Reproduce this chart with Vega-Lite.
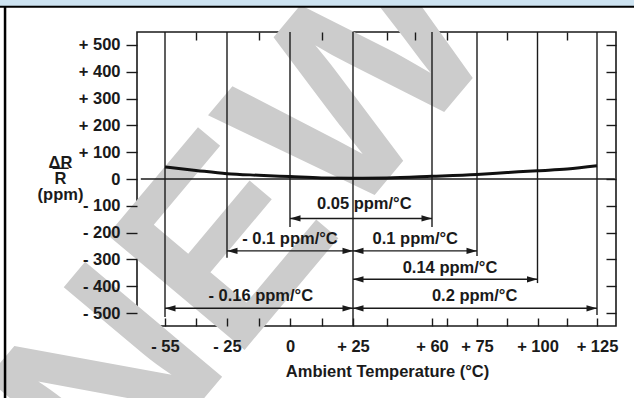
{
  "$schema": "https://vega.github.io/schema/vega-lite/v6.json",
  "autosize": {"type": "none"},
  "width": 479,
  "height": 294,
  "padding": {"left": 137, "top": 32, "right": 18, "bottom": 72},
  "background": "white",
  "config": {
    "view": {"stroke": "#1a1a1a", "strokeWidth": 1.6},
    "font": "Liberation Sans",
    "axis": {"zindex": 1, "labelFont": "Liberation Sans", "titleFont": "Liberation Sans", "labelFontWeight": "bold", "titleFontWeight": "bold", "labelColor": "#1a1a1a", "titleColor": "#1a1a1a", "tickColor": "#1a1a1a", "tickWidth": 1.4, "grid": false, "domain": false, "labelOverlap": false, "labelFlush": false}
  },
  "data": {"values": [{"note": "annotation"}]},
  "datasets": {
    "curve": [
      {"t": -55, "v": 45}, {"t": -40, "v": 32}, {"t": -25, "v": 20}, {"t": -12.5, "v": 14},
      {"t": 0, "v": 9}, {"t": 12.5, "v": 4}, {"t": 25, "v": 3}, {"t": 40, "v": 4},
      {"t": 60, "v": 10}, {"t": 75, "v": 17}, {"t": 87.5, "v": 24}, {"t": 100, "v": 31},
      {"t": 112.5, "v": 37}, {"t": 125, "v": 49}
    ],
    "verticals": [
      {"t": -55, "yEnd": -514}, {"t": -25, "yEnd": -294}, {"t": 0, "yEnd": -179},
      {"t": 25, "yEnd": -548}, {"t": 60, "yEnd": -179}, {"t": 75, "yEnd": -287},
      {"t": 100, "yEnd": -388}, {"t": 125, "yEnd": -507}
    ],
    "arrows": [
      {"label": "0.05 ppm/°C", "x1": 0, "x2": 60, "ya": -147, "tx": 30, "ty": -93},
      {"label": "- 0.1 ppm/°C", "x1": -25, "x2": 25, "ya": -268, "tx": 0, "ty": -225},
      {"label": "0.1 ppm/°C", "x1": 25, "x2": 75, "ya": -268, "tx": 52.6, "ty": -225},
      {"label": "0.14 ppm/°C", "x1": 25, "x2": 100, "ya": -374, "tx": 66, "ty": -333},
      {"label": "- 0.16 ppm/°C", "x1": -55, "x2": 25, "ya": -482, "tx": -11.6, "ty": -436},
      {"label": "0.2 ppm/°C", "x1": 25, "x2": 125, "ya": -482, "tx": 74.2, "ty": -436}
    ]
  },
  "resolve": {"axis": {"x": "independent", "y": "independent"}},
  "layer": [
    {
      "data": {"name": "curve"},
      "mark": {"type": "line", "stroke": "#111111", "strokeWidth": 3, "interpolate": "monotone", "opacity": 0},
      "encoding": {
        "x": {"field": "t", "type": "quantitative", "axis": null, "scale": {"type": "linear", "domain": [-55, -25, 0, 25, 60, 75, 100, 125], "range": [28, 90, 153, 216, 295, 340, 400.5, 460], "nice": false, "zero": false}},
        "y": {"field": "v", "type": "quantitative", "axis": null, "scale": {"domain": [-548, 548], "nice": false, "zero": false}}
      }
    },
    {
      "mark": {"type": "text", "text": "NEW", "angle": -50, "fontSize": 260, "fontWeight": "bold", "font": "Liberation Sans", "fill": "#cccccc", "align": "center", "baseline": "middle"},
      "encoding": {
        "x": {"datum": -16.7, "type": "quantitative", "axis": null},
        "y": {"datum": -170, "type": "quantitative", "axis": null}
      }
    },
    {
      "mark": {"type": "rect", "fill": "#cde3f1"},
      "encoding": {
        "x": {"datum": -140, "type": "quantitative", "axis": null},
        "x2": {"datum": 150},
        "y": {"datum": 700, "type": "quantitative", "axis": null},
        "y2": {"datum": 643}
      }
    },
    {
      "mark": {"type": "rule", "stroke": "#000000", "strokeWidth": 2},
      "encoding": {
        "x": {"datum": -140, "type": "quantitative", "axis": null},
        "x2": {"datum": 150},
        "y": {"datum": 642, "type": "quantitative", "axis": null}
      }
    },
    {
      "mark": {"type": "rule", "stroke": "#000000", "strokeWidth": 2.5},
      "encoding": {
        "x": {"datum": -132.4, "type": "quantitative", "axis": null},
        "y": {"datum": 642, "type": "quantitative", "axis": null},
        "y2": {"datum": -900}
      }
    },
    {
      "data": {"name": "verticals"},
      "mark": {"type": "rule", "stroke": "#1a1a1a", "strokeWidth": 1.4},
      "encoding": {
        "x": {"field": "t", "type": "quantitative", "axis": {"orient": "top", "zindex": 1, "values": [-40, -12.5, 12.5, 40, 52.5, 65, 87.5, 112.5], "tickSize": -8, "labels": false, "title": null}},
        "y": {"field": "yEnd", "type": "quantitative", "axis": null},
        "y2": {"datum": 548}
      }
    },
    {
      "mark": {"type": "rule", "stroke": "#1a1a1a", "strokeWidth": 1.3},
      "encoding": {
        "x": {"datum": -66.7, "type": "quantitative", "axis": null},
        "x2": {"datum": 132.5},
        "y": {"datum": 0, "type": "quantitative", "axis": {"orient": "right", "zindex": 1, "values": [-500, -400, -300, -200, -100, 0, 100, 200, 300, 400, 500], "tickSize": -10, "labels": false, "title": null}}
      }
    },
    {
      "data": {"name": "curve"},
      "mark": {"type": "line", "stroke": "#111111", "strokeWidth": 3, "interpolate": "monotone"},
      "encoding": {
        "x": {"field": "t", "type": "quantitative", "axis": {"orient": "bottom", "zindex": 1, "values": [-55, -40, -25, -12.5, 0, 12.5, 25, 40, 60, 65, 75, 87.5, 100, 112.5, 125], "tickSize": -8, "labelFontSize": 16.5, "labelPadding": 20, "labelExpr": "indexof([-55, -25, 0, 25, 60, 75, 100, 125], datum.value) >= 0 ? (datum.value > 0 ? '+ ' + datum.value : (datum.value < 0 ? '- ' + abs(datum.value) : '0')) : ''", "title": "Ambient Temperature (°C)", "titleFontSize": 16.5, "titleX": 250, "titleY": 45, "titleBaseline": "middle", "titleAlign": "center"}},
        "y": {"field": "v", "type": "quantitative", "axis": {"orient": "left", "zindex": 1, "values": [-500, -400, -300, -200, -100, 0, 100, 200, 300, 400, 500], "tickSize": 11, "labelPadding": 6, "labelFontSize": 16.5, "labelExpr": "datum.value > 0 ? '+ ' + datum.value : (datum.value < 0 ? '- ' + abs(datum.value) : '0')", "title": ["ΔR", "R", "(ppm)"], "titleFontSize": 16.5, "titleAngle": 0, "titleAlign": "center", "titleBaseline": "middle", "titleLineHeight": 16, "titleX": -77, "titleY": 130}}
      }
    },
    {
      "mark": {"type": "rule", "stroke": "#1a1a1a", "strokeWidth": 1.5},
      "encoding": {
        "x": {"datum": -109.4, "type": "quantitative", "axis": null},
        "x2": {"datum": -101.6},
        "y": {"datum": 40, "type": "quantitative", "axis": null}
      }
    },
    {
      "data": {"name": "arrows"},
      "mark": {"type": "rule", "stroke": "#1a1a1a", "strokeWidth": 1.4},
      "encoding": {
        "x": {"field": "x1", "type": "quantitative", "axis": null},
        "x2": {"field": "x2"},
        "y": {"field": "ya", "type": "quantitative", "axis": null}
      }
    },
    {
      "data": {"name": "arrows"},
      "mark": {"type": "point", "shape": "M0,0L1,-0.3L1,0.3Z", "size": 440, "filled": true, "fill": "#1a1a1a", "opacity": 1, "strokeWidth": 0},
      "encoding": {
        "x": {"field": "x1", "type": "quantitative", "axis": null},
        "y": {"field": "ya", "type": "quantitative", "axis": null}
      }
    },
    {
      "data": {"name": "arrows"},
      "mark": {"type": "point", "shape": "M0,0L-1,-0.3L-1,0.3Z", "size": 440, "filled": true, "fill": "#1a1a1a", "opacity": 1, "strokeWidth": 0},
      "encoding": {
        "x": {"field": "x2", "type": "quantitative", "axis": null},
        "y": {"field": "ya", "type": "quantitative", "axis": null}
      }
    },
    {
      "data": {"name": "arrows"},
      "mark": {"type": "text", "fontSize": 16.5, "fontWeight": "bold", "font": "Liberation Sans", "fill": "#1a1a1a", "align": "center", "baseline": "middle"},
      "encoding": {
        "x": {"field": "tx", "type": "quantitative", "axis": null},
        "y": {"field": "ty", "type": "quantitative", "axis": null},
        "text": {"field": "label"}
      }
    }
  ]
}
